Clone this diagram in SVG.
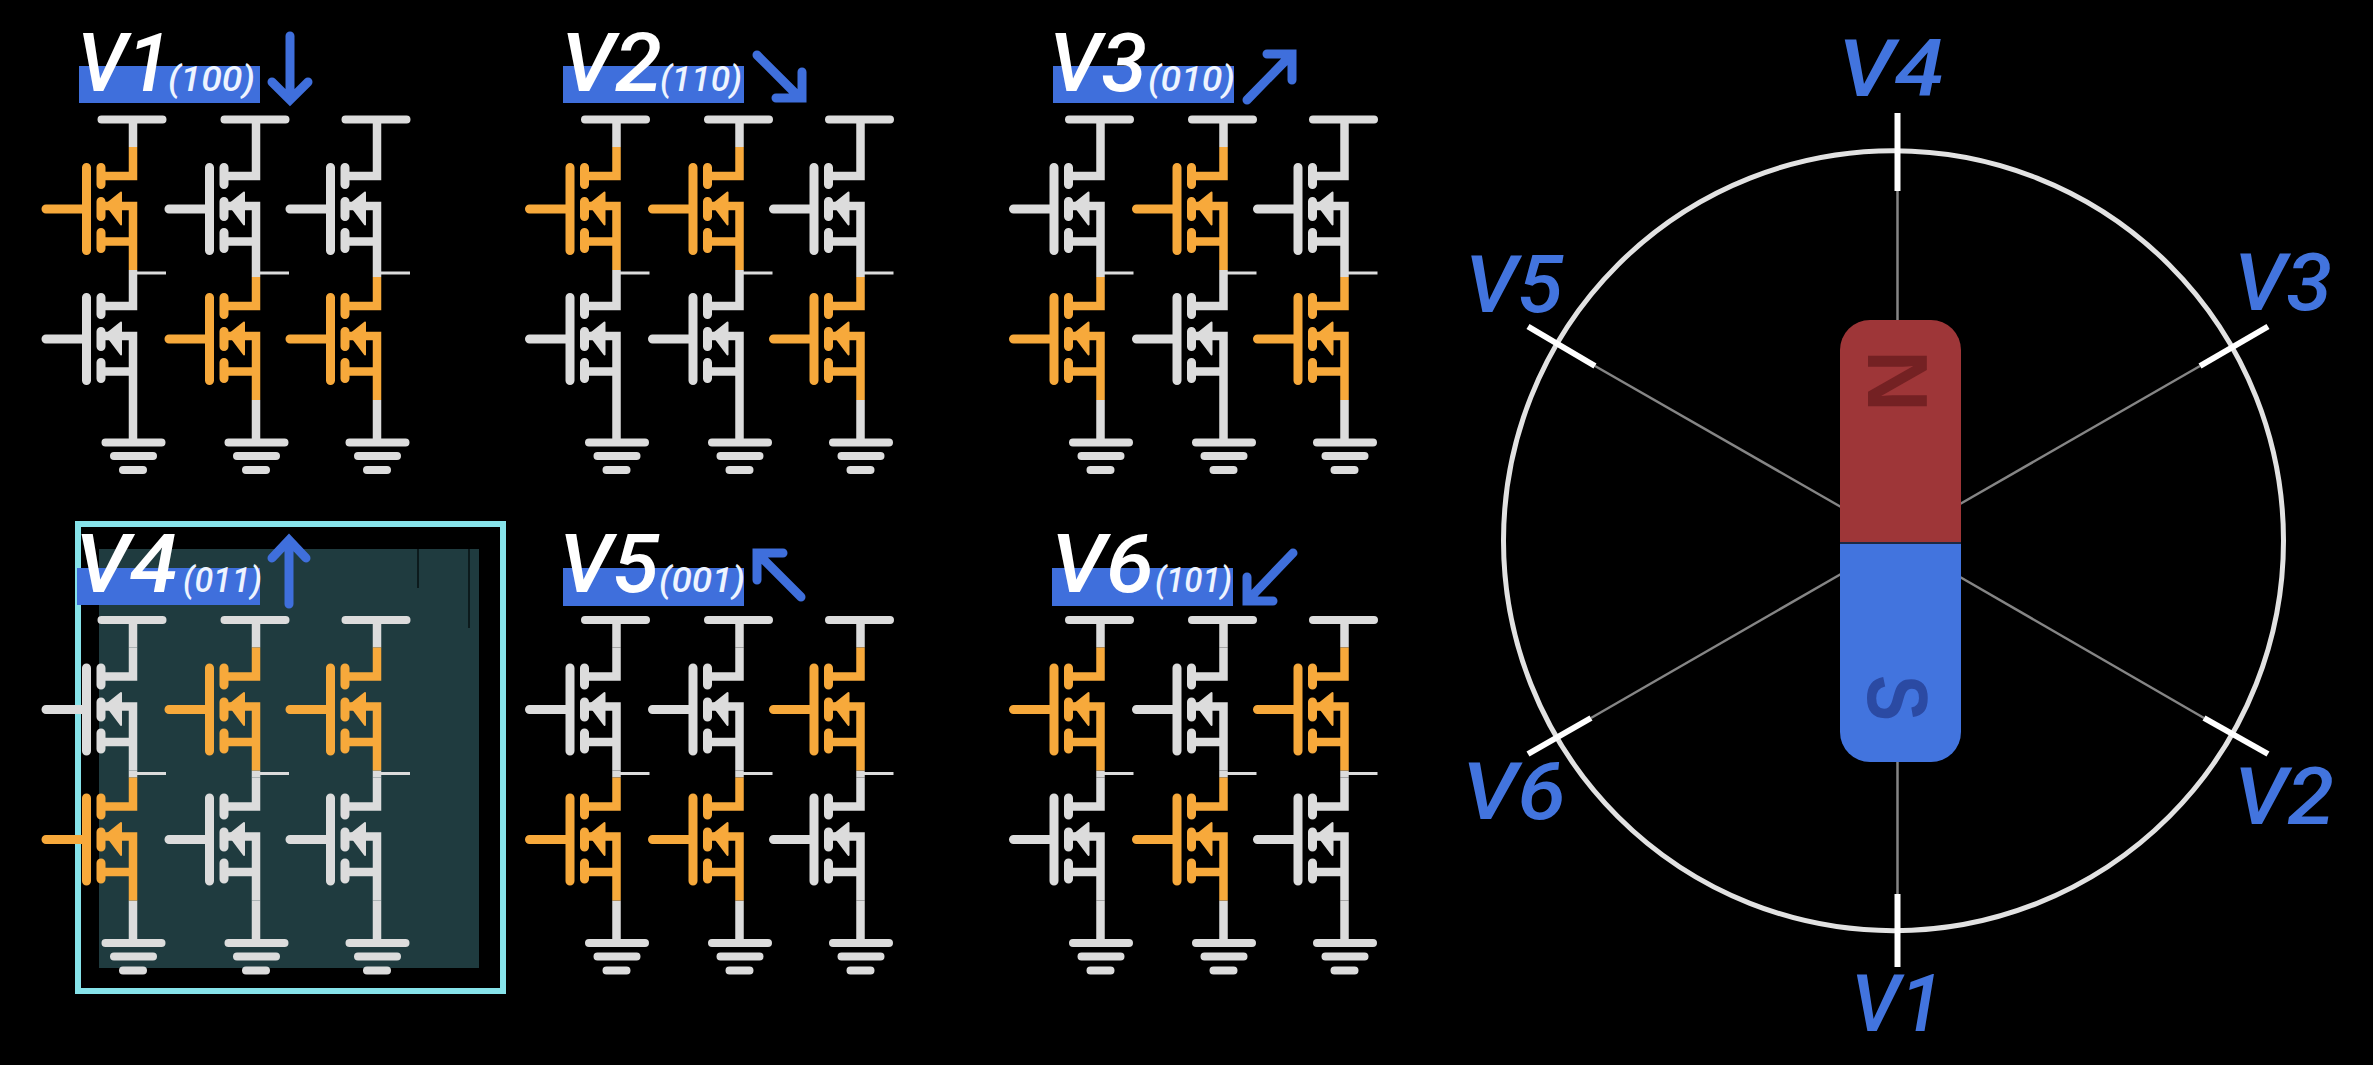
<svg xmlns="http://www.w3.org/2000/svg" width="2373" height="1065" viewBox="0 0 2373 1065">
<style>
text{font-family:"Roboto","Liberation Sans",sans-serif;font-style:italic;font-weight:500}
.big{font-size:82px;fill:#fff}
.code{font-size:35px;fill:#eef4ff}
.band{fill:#3f6fdc}
.dir{fill:none;stroke:#3f6fdc;stroke-width:9;stroke-linecap:round;stroke-linejoin:miter}
.on{color:#f7a93b}
.off{color:#dcdcdc}
.w{fill:none;stroke:currentColor;stroke-width:8.5}
.c{fill:none;stroke:currentColor;stroke-width:9;stroke-linecap:round}
.rail{fill:none;stroke:#dcdcdc;stroke-width:8.5}
.railr{fill:none;stroke:#dcdcdc;stroke-width:8;stroke-linecap:round}
.thin{fill:none;stroke:#dcdcdc;stroke-width:3}
.spoke{stroke:#858585;stroke-width:2.5}
.tick{stroke:#fff;stroke-width:6}
.pos{font-size:80px;fill:#4274de}
.pole{font-family:"Liberation Sans",sans-serif;font-style:normal;font-weight:700;font-size:86px}
</style>
<defs>
<g id="fet">
<path class="w" d="M0 27.5V56.5H-32M-32 86.5H0V150.5M-32 122H0"/>
<path class="c" d="M-46.5 48V131M-87 89.5H-46.5M-32 48V65M-32 82V97M-32 113V129"/>
<path fill="currentColor" stroke="currentColor" stroke-width="2" stroke-linejoin="round" d="M-12 73L-27 85L-12 105Z"/>
</g>
<g id="rail">
<path class="railr" d="M-31.5 0H29.5M-27.5 323H28.5M-19 336.5H20M-10 350.5H10"/>
<path class="rail" d="M0 0V27.5M0 150.5V157.5M0 280.5V323"/>
<path class="thin" d="M0 153.5H33"/>
</g>
</defs>
<rect width="2373" height="1065" fill="#000"/>

<g id="highlight">
<rect x="99" y="549" width="380" height="419" fill="#1f3b3f"/>
<path d="M418 549V588M469 549V628" stroke="#0c1a1c" stroke-width="2"/>
<rect x="78" y="524" width="425" height="467" fill="none" stroke="#86e3ea" stroke-width="6"/>
</g>

<g id="V1">
<rect class="band" x="79" y="66" width="181" height="37"/>
<text class="big" x="77" y="90.5" textLength="94" lengthAdjust="spacingAndGlyphs">V1</text>
<text class="code" x="168" y="90.5" textLength="87" lengthAdjust="spacingAndGlyphs">(100)</text>
<path class="dir" d="M290 36V99M272 82L290 100L308 82"/>
<use href="#rail" x="133" y="119.5"/><use href="#fet" x="133" y="119.5" class="on"/><use href="#fet" x="133" y="249.5" class="off"/>
<use href="#rail" x="256" y="119.5"/><use href="#fet" x="256" y="119.5" class="off"/><use href="#fet" x="256" y="249.5" class="on"/>
<use href="#rail" x="377" y="119.5"/><use href="#fet" x="377" y="119.5" class="off"/><use href="#fet" x="377" y="249.5" class="on"/>
</g>

<g id="V2">
<rect class="band" x="563" y="66" width="181" height="37"/>
<text class="big" x="561" y="90.5" textLength="101" lengthAdjust="spacingAndGlyphs">V2</text>
<text class="code" x="660" y="90.5" textLength="82" lengthAdjust="spacingAndGlyphs">(110)</text>
<path class="dir" d="M757 55L799 97M802 72V98H776"/>
<use href="#rail" x="616.5" y="119.5"/><use href="#fet" x="616.5" y="119.5" class="on"/><use href="#fet" x="616.5" y="249.5" class="off"/>
<use href="#rail" x="739.5" y="119.5"/><use href="#fet" x="739.5" y="119.5" class="on"/><use href="#fet" x="739.5" y="249.5" class="off"/>
<use href="#rail" x="860.5" y="119.5"/><use href="#fet" x="860.5" y="119.5" class="off"/><use href="#fet" x="860.5" y="249.5" class="on"/>
</g>

<g id="V3">
<rect class="band" x="1053" y="66" width="181" height="37"/>
<text class="big" x="1049" y="90.5" textLength="98" lengthAdjust="spacingAndGlyphs">V3</text>
<text class="code" x="1148" y="90.5" textLength="87" lengthAdjust="spacingAndGlyphs">(010)</text>
<path class="dir" d="M1247 100L1289 57M1267 54H1292V80"/>
<use href="#rail" x="1100.5" y="119.5"/><use href="#fet" x="1100.5" y="119.5" class="off"/><use href="#fet" x="1100.5" y="249.5" class="on"/>
<use href="#rail" x="1223.5" y="119.5"/><use href="#fet" x="1223.5" y="119.5" class="on"/><use href="#fet" x="1223.5" y="249.5" class="off"/>
<use href="#rail" x="1344.5" y="119.5"/><use href="#fet" x="1344.5" y="119.5" class="off"/><use href="#fet" x="1344.5" y="249.5" class="on"/>
</g>

<g id="V4">
<rect class="band" x="77" y="568" width="183" height="37"/>
<text class="big" x="75" y="591.5" textLength="103" lengthAdjust="spacingAndGlyphs">V4</text>
<text class="code" x="183" y="591.5" textLength="79" lengthAdjust="spacingAndGlyphs">(011)</text>
<path class="dir" d="M289 604V541M272 558L289 540L306 558"/>
<use href="#rail" x="133" y="620"/><use href="#fet" x="133" y="620" class="off"/><use href="#fet" x="133" y="750" class="on"/>
<use href="#rail" x="256" y="620"/><use href="#fet" x="256" y="620" class="on"/><use href="#fet" x="256" y="750" class="off"/>
<use href="#rail" x="377" y="620"/><use href="#fet" x="377" y="620" class="on"/><use href="#fet" x="377" y="750" class="off"/>
</g>

<g id="V5">
<rect class="band" x="563" y="568" width="181" height="38"/>
<text class="big" x="559" y="591.5" textLength="100" lengthAdjust="spacingAndGlyphs">V5</text>
<text class="code" x="659" y="591.5" textLength="86" lengthAdjust="spacingAndGlyphs">(001)</text>
<path class="dir" d="M801 597L760 556M783 553H757V580"/>
<use href="#rail" x="616.5" y="620"/><use href="#fet" x="616.5" y="620" class="off"/><use href="#fet" x="616.5" y="750" class="on"/>
<use href="#rail" x="739.5" y="620"/><use href="#fet" x="739.5" y="620" class="off"/><use href="#fet" x="739.5" y="750" class="on"/>
<use href="#rail" x="860.5" y="620"/><use href="#fet" x="860.5" y="620" class="on"/><use href="#fet" x="860.5" y="750" class="off"/>
</g>

<g id="V6">
<rect class="band" x="1052" y="568" width="181" height="38"/>
<text class="big" x="1051" y="591.5" textLength="103" lengthAdjust="spacingAndGlyphs">V6</text>
<text class="code" x="1155" y="591.5" textLength="77" lengthAdjust="spacingAndGlyphs">(101)</text>
<path class="dir" d="M1293 553L1250 598M1247 577V601H1273"/>
<use href="#rail" x="1100.5" y="620"/><use href="#fet" x="1100.5" y="620" class="on"/><use href="#fet" x="1100.5" y="750" class="off"/>
<use href="#rail" x="1223.5" y="620"/><use href="#fet" x="1223.5" y="620" class="off"/><use href="#fet" x="1223.5" y="750" class="on"/>
<use href="#rail" x="1344.5" y="620"/><use href="#fet" x="1344.5" y="620" class="on"/><use href="#fet" x="1344.5" y="750" class="off"/>
</g>

<g id="rotor">
<circle cx="1893.5" cy="540.7" r="390" fill="none" stroke="#e2e2e2" stroke-width="5"/>
<g id="spokes">
<line class="spoke" x1="1897.5" y1="191" x2="1897.5" y2="320"/>
<line class="spoke" x1="1897.5" y1="761" x2="1897.5" y2="894"/>
<line class="spoke" x1="1595" y1="366" x2="1841" y2="507"/>
<line class="spoke" x1="2200" y1="366" x2="1960" y2="504"/>
<line class="spoke" x1="1591" y1="718" x2="1841" y2="574"/>
<line class="spoke" x1="2204" y1="718" x2="1960" y2="577"/>
<line class="tick" x1="1897.5" y1="113" x2="1897.5" y2="191"/>
<line class="tick" x1="1897.5" y1="894" x2="1897.5" y2="967"/>
<line class="tick" x1="1528" y1="326.5" x2="1595" y2="366"/>
<line class="tick" x1="2268" y1="326.5" x2="2200" y2="366"/>
<line class="tick" x1="1528" y1="754" x2="1591" y2="718"/>
<line class="tick" x1="2268" y1="754" x2="2204" y2="718"/>
</g>
<g id="magnet">
<path d="M1840 543V350A30 30 0 0 1 1870 320H1931A30 30 0 0 1 1961 350V543Z" fill="#9e3638"/>
<path d="M1840 543V732A30 30 0 0 0 1870 762H1931A30 30 0 0 0 1961 732V543Z" fill="#4274de"/>
<line x1="1840" y1="543" x2="1961" y2="543" stroke="#1d2a44" stroke-width="2"/>
<text class="pole" transform="translate(1899 381) rotate(90)" text-anchor="middle" y="31" fill="#742123">N</text>
<text class="pole" transform="translate(1899 698) rotate(90)" text-anchor="middle" y="31" fill="#2b4aa3" textLength="46" lengthAdjust="spacingAndGlyphs">S</text>
</g>
<g id="positions">
<text class="pos" x="1838" y="96" textLength="106" lengthAdjust="spacingAndGlyphs">V4</text>
<text class="pos" x="1465" y="312" textLength="98" lengthAdjust="spacingAndGlyphs">V5</text>
<text class="pos" x="2234" y="310" textLength="98" lengthAdjust="spacingAndGlyphs">V3</text>
<text class="pos" x="1462" y="819" textLength="104" lengthAdjust="spacingAndGlyphs">V6</text>
<text class="pos" x="2234" y="824" textLength="100" lengthAdjust="spacingAndGlyphs">V2</text>
<text class="pos" x="1851" y="1031" textLength="92" lengthAdjust="spacingAndGlyphs">V1</text>
</g>
</g>
</svg>
